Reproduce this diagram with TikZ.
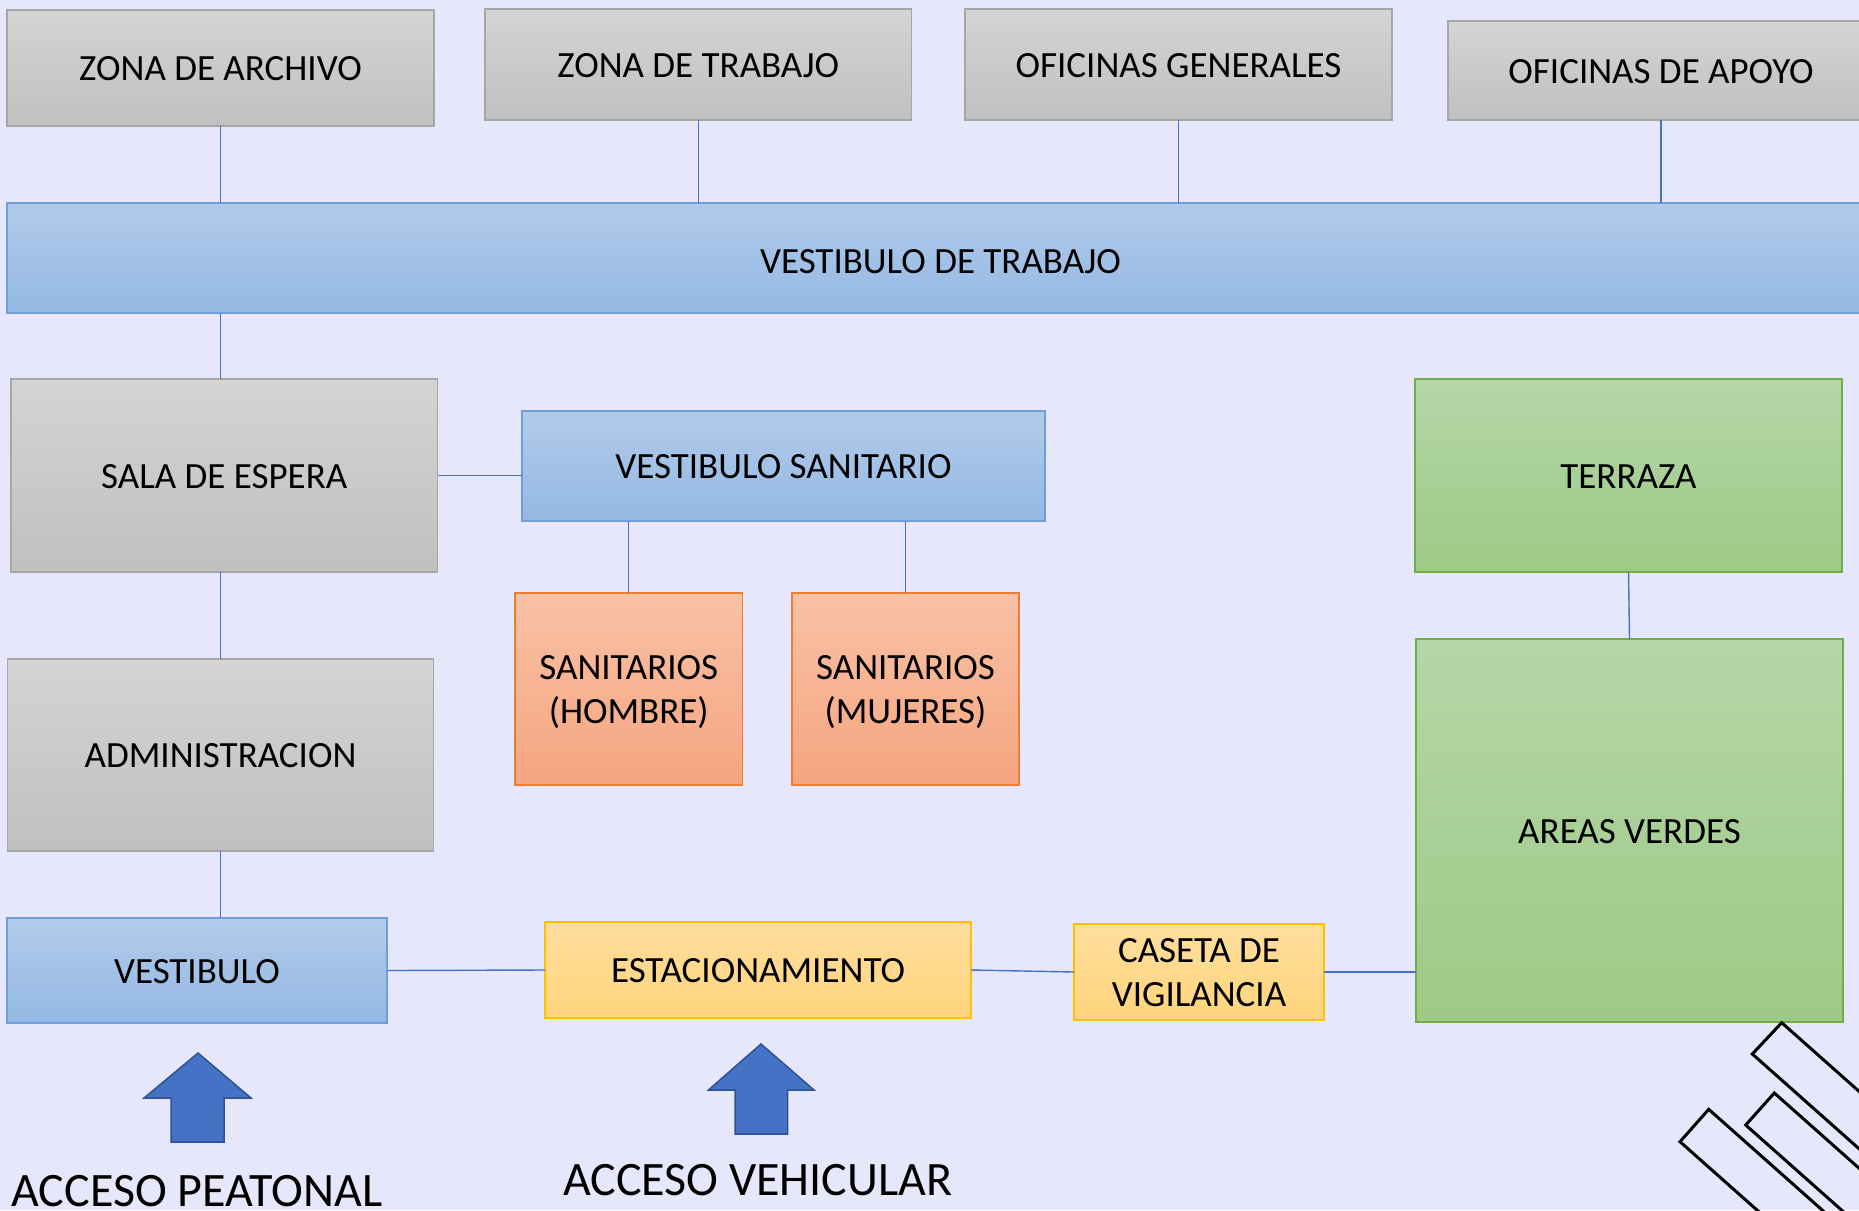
\documentclass[tikz,border=0pt]{standalone}
\usepackage{fontspec}
\setmainfont{Carlito}
\definecolor{bgc}{HTML}{E7E7FB}
\definecolor{gtop}{HTML}{D4D4D4}
\definecolor{gbot}{HTML}{C0C0C0}
\definecolor{gbd}{HTML}{A6A6A6}
\definecolor{btop}{HTML}{B2CBEA}
\definecolor{bbot}{HTML}{94B8E4}
\definecolor{bbd}{HTML}{6C9FDB}
\definecolor{otop}{HTML}{F8C1A6}
\definecolor{obot}{HTML}{F6A57F}
\definecolor{obd}{HTML}{ED7D31}
\definecolor{ytop}{HTML}{FFDE9E}
\definecolor{ybot}{HTML}{FFD47B}
\definecolor{ybd}{HTML}{FFC000}
\definecolor{vtop}{HTML}{B5D6A7}
\definecolor{vbot}{HTML}{9DCA87}
\definecolor{vbd}{HTML}{70AD47}
\definecolor{lnc}{HTML}{4472C4}
\definecolor{arf}{HTML}{4472C4}
\definecolor{ard}{HTML}{2F528F}
\begin{document}
\begin{tikzpicture}[x=1pt,y=-1pt,
  box/.style={draw, line width=1.5pt, inner sep=0pt, outer sep=0pt, align=center,
    font=\fontsize{37}{44}\selectfont, text=black, text depth=0pt},
  one/.style={align=none, text height=25.8pt, text depth=0pt},
  gbox/.style={box, draw=gbd, top color=gtop, bottom color=gbot},
  bbox/.style={box, draw=bbd, top color=btop, bottom color=bbot},
  obox/.style={box, draw=obd, top color=otop, bottom color=obot},
  ybox/.style={box, draw=ybd, top color=ytop, bottom color=ybot},
  vbox/.style={box, draw=vbd, top color=vtop, bottom color=vbot},
  conn/.style={draw=lnc, line width=1.4pt},
  arr/.style={fill=arf, draw=ard, line width=1.5pt, line join=miter},
  deco/.style={draw=black, line width=3pt, line join=miter},
  acc/.style={inner sep=0pt, outer sep=0pt, anchor=base west, font=\fontsize{48}{56}\selectfont, text=black}
]
\useasboundingbox (0,0) rectangle (1859,1210);
\fill[bgc] (0,0) rectangle (1859,1210);
\begin{scope}
\clip (0,0) rectangle (1859,1210);
% top row
\node[gbox, one, minimum width=427pt, minimum height=116pt] (za) at (220.5,68) {ZONA DE ARCHIVO};
\node[gbox, one, minimum width=426.5pt, minimum height=111pt] (zt) at (698.25,64.5) {ZONA DE TRABAJO};
\node[gbox, one, minimum width=427pt, minimum height=111pt] (og) at (1178.5,64.5) {OFICINAS GENERALES};
\node[gbox, one, minimum width=426pt, minimum height=99pt] (oa) at (1661,70.5) {OFICINAS DE APOYO};
% bar
\node[bbox, one, text height=31.8pt, minimum width=1867pt, minimum height=110pt] (vt) at (940.5,258) {VESTIBULO DE TRABAJO};
% left column
\node[gbox, one, minimum width=426.5pt, minimum height=193pt] (sala) at (224.25,475.5) {SALA DE ESPERA};
\node[gbox, one, minimum width=426pt, minimum height=192pt] (adm) at (220.5,755) {ADMINISTRACION};
\node[bbox, one, minimum width=380pt, minimum height=105pt] (vest) at (197,970.5) {VESTIBULO};
% sanitarios
\node[bbox, one, minimum width=523pt, minimum height=110pt] (vs) at (783.5,466) {VESTIBULO SANITARIO};
\node[obox, minimum width=227.5pt, minimum height=192pt] (sh) at (628.75,689) {SANITARIOS\\(HOMBRE)};
\node[obox, minimum width=227pt, minimum height=192pt] (sm) at (905.5,689) {SANITARIOS\\(MUJERES)};
% bottom row
\node[ybox, one, minimum width=426pt, minimum height=96pt] (est) at (758,970) {ESTACIONAMIENTO};
\node[ybox, minimum width=250pt, minimum height=96pt] (cas) at (1199,972) {CASETA DE\\VIGILANCIA};
% green
\node[vbox, one, minimum width=427pt, minimum height=193pt] (ter) at (1628.5,475.5) {TERRAZA};
\node[vbox, one, minimum width=427pt, minimum height=383pt] (av) at (1629.5,830.5) {AREAS VERDES};
% connectors
\draw[conn] (za.south) -- (za.south |- vt.north);
\draw[conn] (zt.south) -- (zt.south |- vt.north);
\draw[conn] (og.south) -- (og.south |- vt.north);
\draw[conn] (oa.south) -- (oa.south |- vt.north);
\draw[conn] (vt.south -| za.south) -- (sala.north -| za.south);
\draw[conn] (sala.east) -- (sala.east -| vs.west);
\draw[conn] (sh.north) -- (sh.north |- vs.south);
\draw[conn] (sm.north) -- (sm.north |- vs.south);
\draw[conn] (sala.south -| adm.north) -- (adm.north);
\draw[conn] (adm.south) -- (adm.south |- vest.north);
\draw[conn] (vest.east) -- (est.west);
\draw[conn] (est.east) -- (cas.west);
\draw[conn] (cas.east) -- (cas.east -| av.west);
\draw[conn] (ter.south) -- (av.north);
% block arrows
\draw[arr] (198,1053) -- (251,1098) -- (224,1098) -- (224,1142) -- (171,1142) -- (171,1098) -- (144,1098) -- cycle;
\draw[arr] (761,1044) -- (814,1090) -- (787.6,1090) -- (787.6,1134) -- (735,1134) -- (735,1090) -- (708.5,1090) -- cycle;
\node[acc] (ap) at (11.5,1206) {ACCESO PEATONAL};
\node[acc] (avh) at (563,1195) {ACCESO VEHICULAR};
% decorative shapes
\draw[deco] (1968.7,1188.7) -- (1781.7,1022.7) -- (1752.3,1054) -- (1939.3,1220);
\draw[deco] (1961.3,1259) -- (1774.3,1093) -- (1745.7,1125) -- (1932.7,1291);
\draw[deco] (1895.7,1275.3) -- (1708.7,1109.3) -- (1680,1141.7) -- (1867,1307.7);
\end{scope}
\end{tikzpicture}
\end{document}
